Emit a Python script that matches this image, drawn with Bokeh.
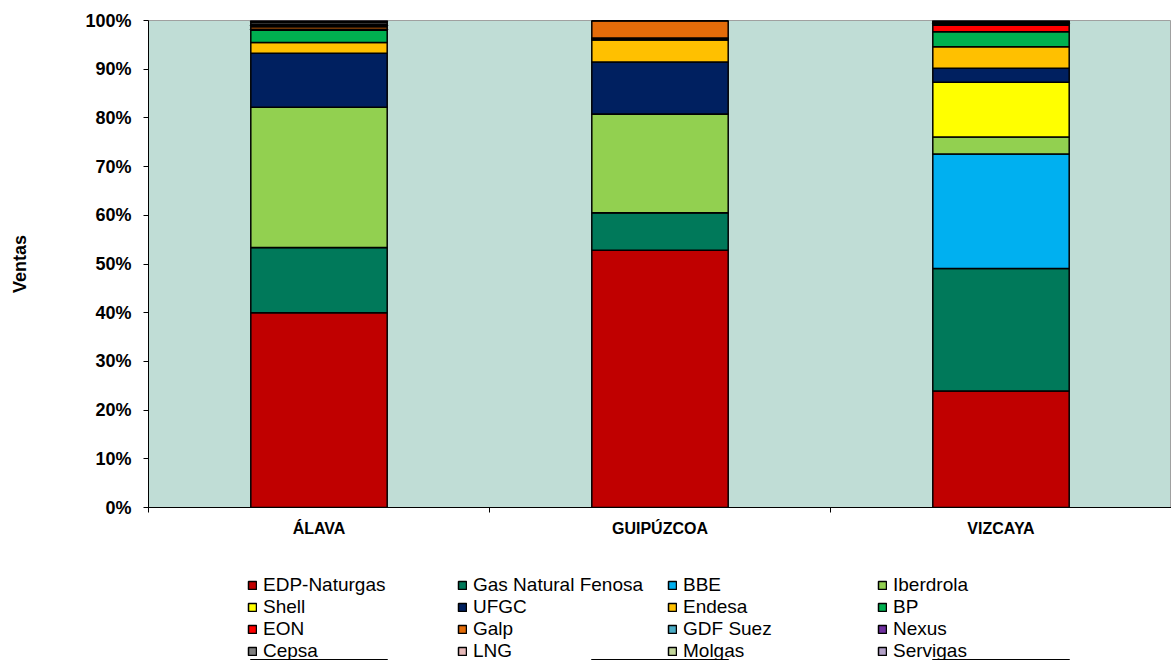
from bokeh.plotting import figure
from bokeh.models import (Range1d, LinearAxis, FixedTicker,
                          Legend, LegendItem, ColumnDataSource)
from bokeh.layouts import column
from bokeh.embed import file_html
from bokeh.resources import INLINE

# ---------------- data ----------------
regions = ["ÁLAVA", "GUIPÚZCOA", "VIZCAYA"]

companies = ["EDP-Naturgas", "Gas Natural Fenosa", "BBE", "Iberdrola",
             "Shell", "UFGC", "Endesa", "BP",
             "EON", "Galp", "GDF Suez", "Nexus",
             "Cepsa", "LNG", "Molgas", "Servigas"]

# share of sales (%) per region: Álava, Guipúzcoa, Vizcaya
edp_naturgas = [40.0, 52.8, 23.9]
gas_natural_fenosa = [13.4, 7.7, 25.2]
bbe = [0.0, 0.0, 23.5]
iberdrola = [28.8, 20.3, 3.5]
shell = [0.0, 0.0, 11.2]
ufgc = [11.1, 10.7, 2.9]
endesa = [2.2, 4.5, 4.4]
bp = [2.5, 0.2, 3.1]
eon = [0.2, 0.2, 1.3]
galp = [0.5, 3.6, 0.2]
gdf_suez = [0.3, 0.0, 0.2]
nexus = [0.2, 0.0, 0.1]
cepsa = [0.4, 0.0, 0.2]
lng = [0.2, 0.0, 0.1]
molgas = [0.1, 0.0, 0.1]
servigas = [0.1, 0.0, 0.1]

series = [edp_naturgas, gas_natural_fenosa, bbe, iberdrola, shell, ufgc, endesa, bp,
          eon, galp, gdf_suez, nexus, cepsa, lng, molgas, servigas]

colors = ["#C00000", "#00795A", "#00B0F0", "#92D050",
          "#FFFF00", "#002060", "#FFC000", "#00B050",
          "#FF0000", "#E36C09", "#4BACC6", "#7030A0",
          "#808080", "#E6B9B8", "#C3D69B", "#B2A1C7"]

y_tick_values = [0, 10, 20, 30, 40, 50, 60, 70, 80, 90, 100]
y_tick_labels = ["0%", "10%", "20%", "30%", "40%", "50%", "60%", "70%", "80%", "90%", "100%"]

# ---------------- main chart ----------------
n = len(regions)
centers = [i + 0.5 for i in range(n)]          # category slot centres
boundaries = [float(i) for i in range(n + 1)]  # category slot edges

data = {"x": centers}
for name, vals in zip(companies, series):
    data[name] = vals
source = ColumnDataSource(data)

FONT = "Liberation Sans"

p = figure(width=1171, height=560,
           x_range=Range1d(0, n),
           y_range=Range1d(0, 100),
           output_backend="svg", toolbar_location=None,
           x_axis_location=None,
           min_border_left=148, min_border_right=0,
           min_border_top=20, min_border_bottom=53)

p.background_fill_color = "#C0DDD6"
p.border_fill_color = "white"
p.outline_line_color = "#A0A0A0"
p.outline_line_width = 1
p.grid.visible = False

renderers = p.vbar_stack(companies, x="x", width=0.4, source=source,
                         fill_color=colors, line_color="black", line_width=1.5)

# y axis
yax = p.yaxis[0]
yax.ticker = FixedTicker(ticks=y_tick_values)
yax.major_label_overrides = {v: l for v, l in zip(y_tick_values, y_tick_labels)}
yax.major_label_text_font = FONT
yax.major_label_text_font_style = "bold"
yax.major_label_text_font_size = "18px"
yax.major_label_text_color = "black"
yax.major_tick_out = 5
yax.major_tick_in = 0
yax.minor_tick_line_color = None
yax.major_label_standoff = 12
yax.axis_line_color = "black"
yax.major_tick_line_color = "black"
yax.axis_label = "Ventas"
yax.axis_label_text_font = FONT
yax.axis_label_text_font_style = "bold"
yax.axis_label_text_font_size = "18px"
yax.axis_label_text_color = "black"
yax.axis_label_standoff = 52

# x axis: names at slot centres, tick marks at slot edges
xax = LinearAxis(ticker=FixedTicker(ticks=centers, minor_ticks=boundaries),
                 major_label_overrides={c: r for c, r in zip(centers, regions)},
                 axis_line_color="black",
                 major_tick_line_color=None, major_tick_out=0, major_tick_in=0,
                 minor_tick_line_color="black", minor_tick_out=5, minor_tick_in=0,
                 major_label_standoff=7,
                 major_label_text_font=FONT,
                 major_label_text_font_style="bold",
                 major_label_text_font_size="16px",
                 major_label_text_color="black")
p.add_layout(xax, "below")

# ---------------- legend strip ----------------
# the same stacked series feed the legend; the y range lies far above the data,
# so the bars themselves fall outside this strip's visible area
lg = figure(width=1171, height=100, x_range=Range1d(0, n), y_range=Range1d(1000, 1001),
            output_backend="svg", toolbar_location=None,
            x_axis_location=None, y_axis_location=None,
            min_border_left=0, min_border_right=0, min_border_top=0, min_border_bottom=0)
lg.outline_line_color = None
lg.grid.visible = False
lg.background_fill_color = "white"
lg.border_fill_color = "white"

lg_renderers = lg.vbar_stack(companies, x="x", width=0.4, source=source,
                             fill_color=colors, line_color="black", line_width=1.5)
items = [LegendItem(label=name, renderers=[r]) for name, r in zip(companies, lg_renderers)]

legend = Legend(items=items, location=(99, -2), orientation="horizontal", ncols=4,
                padding=0, margin=0, spacing=0,
                glyph_width=10, glyph_height=10, label_standoff=6,
                label_width=194, label_height=20,
                label_text_font=FONT, label_text_font_size="19px",
                label_text_color="black",
                border_line_color=None, background_fill_alpha=0)
lg.add_layout(legend)

layout = column(p, lg, spacing=0)
open("out.html", "w").write(file_html(layout, INLINE))
